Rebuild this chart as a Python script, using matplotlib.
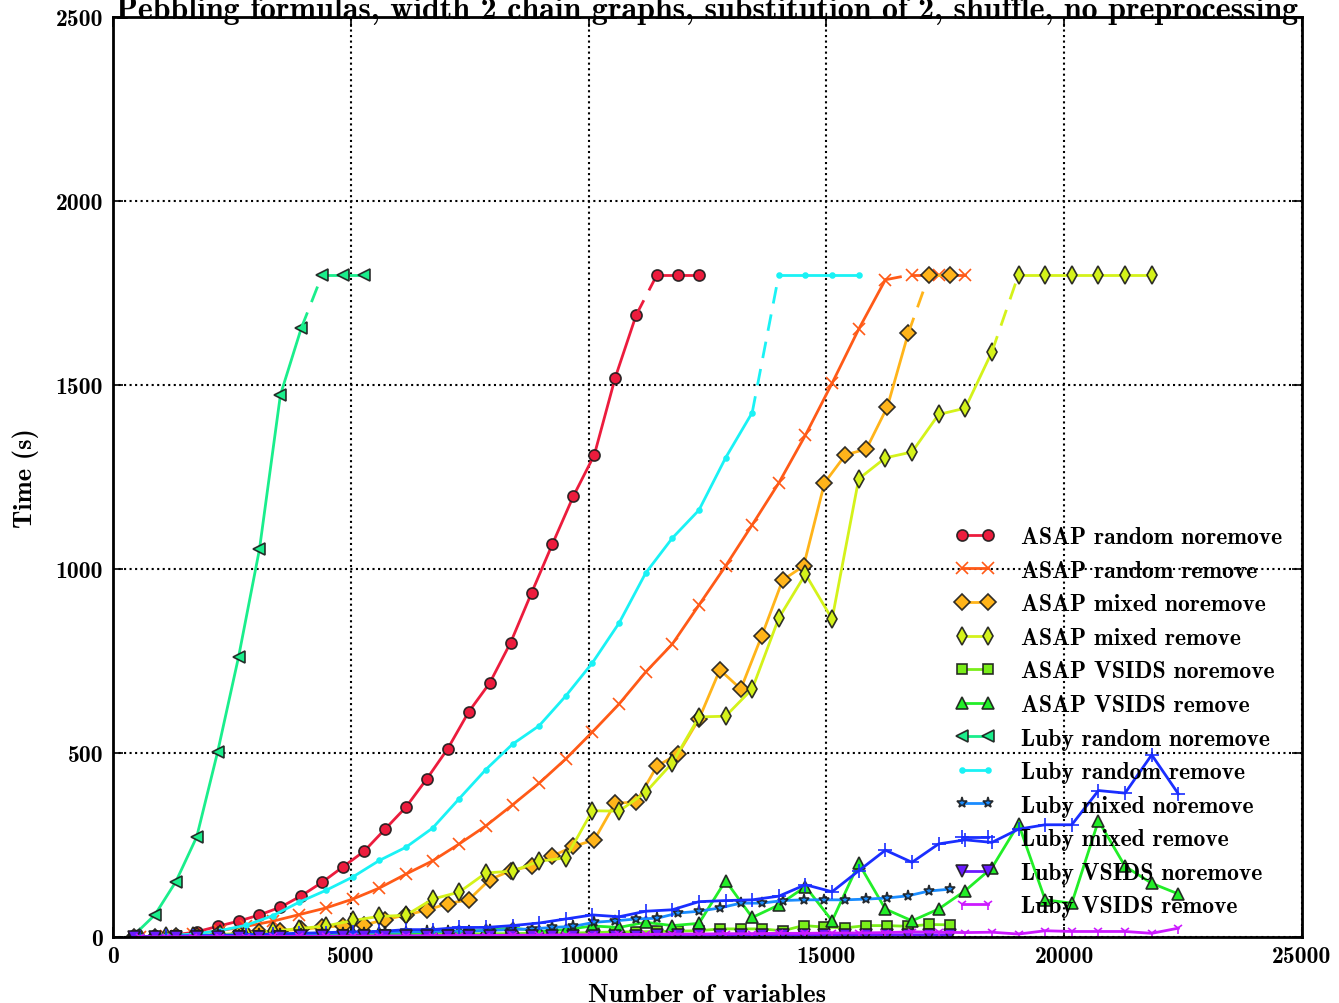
import matplotlib
matplotlib.use("Agg")
import matplotlib.pyplot as plt
import numpy as np

plt.rcParams['font.family'] = 'cmb10'
plt.rcParams['axes.unicode_minus'] = False
plt.rcParams['mathtext.fontset'] = 'cm'

TIMEOUT = 1800

# number of variables (noremove / remove instances)
x_noremove = [440, 880, 1320, 1760, 2200, 2640, 3080, 3520, 3960, 4400,
              4840, 5280, 5720, 6160, 6600, 7040, 7480, 7920, 8360, 8800,
              9240, 9680, 10120, 10560, 11000, 11440, 11880, 12320, 12760, 13200,
              13640, 14080, 14520, 14960, 15400, 15840, 16280, 16720, 17160, 17600]
x_remove = [560, 1120, 1680, 2240, 2800, 3360, 3920, 4480, 5040, 5600,
            6160, 6720, 7280, 7840, 8400, 8960, 9520, 10080, 10640, 11200,
            11760, 12320, 12880, 13440, 14000, 14560, 15120, 15680, 16240, 16800,
            17360, 17920, 18480, 19040, 19600, 20160, 20720, 21280, 21840, 22400]

asap_random_noremove = [1, 2, 6, 14, 29, 43, 60, 81, 112, 149, 191, 233, 293, 353,
                        430, 512, 612, 690, 800, 935, 1068, 1198, 1310, 1520, 1690,
                        1800, 1800, 1800]
asap_random_remove = [1, 3, 8, 17, 29, 43, 61, 79, 103, 133, 171, 207, 253, 302, 359,
                      418, 484, 557, 633, 720, 796, 902, 1008, 1120, 1234, 1364, 1505,
                      1652, 1786, 1800, 1800, 1800]
asap_mixed_noremove = [0.5, 1, 2, 3, 5, 8, 14, 17, 21, 26, 31, 33, 47, 60, 73, 91, 101,
                       156, 180, 193, 220, 246, 264, 364, 366, 465, 497, 592, 726, 674,
                       818, 970, 1008, 1234, 1310, 1326, 1440, 1640, 1800, 1800]
asap_mixed_remove = [1, 2, 4, 7, 11, 16, 23, 30, 45, 56, 59, 103, 122, 174, 179, 206,
                     215, 343, 342, 393, 473, 598, 600, 674, 867, 986, 864, 1245, 1302,
                     1318, 1420, 1437, 1590, 1800, 1800, 1800, 1800, 1800, 1800]
asap_vsids_noremove = [0.5, 1, 1.5, 2, 2.5, 3, 3, 4, 4, 5, 5, 6, 6, 7, 7, 8, 8, 9, 9, 10,
                       10, 11, 12, 14, 14, 15, 16, 17, 22, 22, 22, 17, 31, 27, 25, 31,
                       31, 29, 34, 33]
asap_vsids_remove = [0.5, 1, 2, 3, 4, 5, 6, 8, 12, 10, 9, 14, 15, 18, 25, 15, 20, 30, 26,
                     40, 31, 37, 153, 53, 87, 137, 44, 200, 76, 44, 76, 126, 188, 307,
                     101, 92, 316, 192, 146, 117]
luby_random_noremove = [5, 60, 150, 272, 503, 761, 1054, 1473, 1655, 1800, 1800, 1800]
luby_random_remove = [1, 3, 8, 17, 32, 58, 95, 127, 163, 208, 244, 296, 376, 455, 524,
                      574, 655, 745, 853, 989, 1084, 1160, 1302, 1425, 1800, 1800, 1800,
                      1800]
luby_mixed_noremove = [1, 2, 3, 4, 5, 6, 7, 8, 9, 10, 11, 12, 13, 14, 15, 16, 16, 18, 20,
                       22, 26, 29, 40, 44, 49, 51, 65, 70, 79, 92, 92, 99, 101, 101, 101,
                       103, 106, 112, 125, 130]
luby_mixed_remove = [1, 2, 3, 4, 6, 8, 10, 12, 14, 15, 20, 20, 26, 26, 31, 38, 49, 60, 55,
                     70, 74, 96, 99, 101, 111, 142, 123, 180, 236, 203, 253, 264, 257,
                     293, 305, 305, 398, 391, 495, 389]
luby_vsids_noremove = [0.3, 0.5, 0.5, 0.8, 1, 1, 1, 1.2, 1.5, 1.5, 2, 2, 2, 2.5, 2.5, 3,
                       3, 3, 3, 3.5, 3.5, 4, 4, 4, 4, 4.5, 4.5, 4.5, 5, 5, 5, 5, 5, 5.5,
                       5.5, 5.5, 6, 6, 6, 6]
luby_vsids_remove = [0.3, 0.5, 0.8, 1, 1, 1.5, 2, 2, 2.5, 3, 3, 3.5, 4, 4, 5, 5, 6, 6, 7,
                     7, 8, 8, 9, 9, 10, 10, 11, 11, 12, 14, 13, 12, 13, 8, 17, 15, 15,
                     15, 10, 24]

series = [
    ("ASAP random noremove", x_noremove, asap_random_noremove, 'o', '#ec1c3d'),
    ("ASAP random remove", x_remove, asap_random_remove, 'x', '#ff5a17'),
    ("ASAP mixed noremove", x_noremove, asap_mixed_noremove, 'D', '#ffb41a'),
    ("ASAP mixed remove", x_remove, asap_mixed_remove, 'd', '#d4f21a'),
    ("ASAP VSIDS noremove", x_noremove, asap_vsids_noremove, 's', '#7aee1a'),
    ("ASAP VSIDS remove", x_remove, asap_vsids_remove, '^', '#22ee28'),
    ("Luby random noremove", x_noremove, luby_random_noremove, '<', '#1aee8c'),
    ("Luby random remove", x_remove, luby_random_remove, '.', '#1af2f5'),
    ("Luby mixed noremove", x_noremove, luby_mixed_noremove, '*', '#1a8cff'),
    ("Luby mixed remove", x_remove, luby_mixed_remove, '+', '#1a2eff'),
    ("Luby VSIDS noremove", x_noremove, luby_vsids_noremove, 'v', '#6a1aff'),
    ("Luby VSIDS remove", x_remove, luby_vsids_remove, '1', '#cc1aff'),
]

fig = plt.figure(figsize=(13.39, 10.04), dpi=100)
ax = fig.add_axes([113 / 1339, 1 - 938 / 1004, (1302 - 113) / 1339, (938 - 18) / 1004])

msizes = {'o': 8, 'x': 9, 'D': 8, 'd': 9, 's': 7, '^': 8, '<': 8, '.': 7,
          '*': 8, '+': 10, 'v': 8, '1': 8}

for label, xs, ys, marker, col in series:
    xs = np.array(xs[:len(ys)], dtype=float)
    ys = np.array(ys, dtype=float)
    mec = col if marker in ('x', '+', '1', '.') else (0.1, 0.1, 0.1, 0.9)
    style = dict(color=col, lw=2, marker=marker, ms=msizes[marker], mec=mec, mew=1.2)
    done = np.where(ys < TIMEOUT)[0]
    n = len(done)
    ax.plot(xs[:n], ys[:n], label=label, **style)
    if n < len(ys):
        # dashed jump to the timeout level
        ax.plot(xs[n - 1:n + 1], ys[n - 1:n + 1], color=col, lw=2, ls='--', dashes=(6, 4))
        ax.plot(xs[n:], ys[n:], **style)

ax.set_xlim(0, 25000)
ax.set_ylim(0, 2500)
ax.set_xticks(np.arange(0, 25001, 5000))
ax.set_yticks(np.arange(0, 2501, 500))
ax.grid(True, color='k', ls=':', lw=1.5)
ax.tick_params(direction='in', top=True, right=True, labelsize=17, length=7, width=1.2)
ax.tick_params(axis='y', pad=7)
ax.tick_params(axis='x', pad=6)
for sp in ax.spines.values():
    sp.set_linewidth(2)

ax.set_xlabel('Number of variables', fontsize=19, labelpad=11)
ax.set_ylabel('Time (s)', fontsize=19, labelpad=12)
ax.set_title('Pebbling formulas, width 2 chain graphs, substitution of 2, shuffle, no preprocessing',
             fontsize=23, pad=-1)

ax.legend(loc='lower right', bbox_to_anchor=(0.991, 0.011), frameon=False, fontsize=17,
          numpoints=2, handlelength=1.7, handletextpad=1.1, labelspacing=0.49,
          borderaxespad=0)

fig.savefig('out.png', dpi=100)
